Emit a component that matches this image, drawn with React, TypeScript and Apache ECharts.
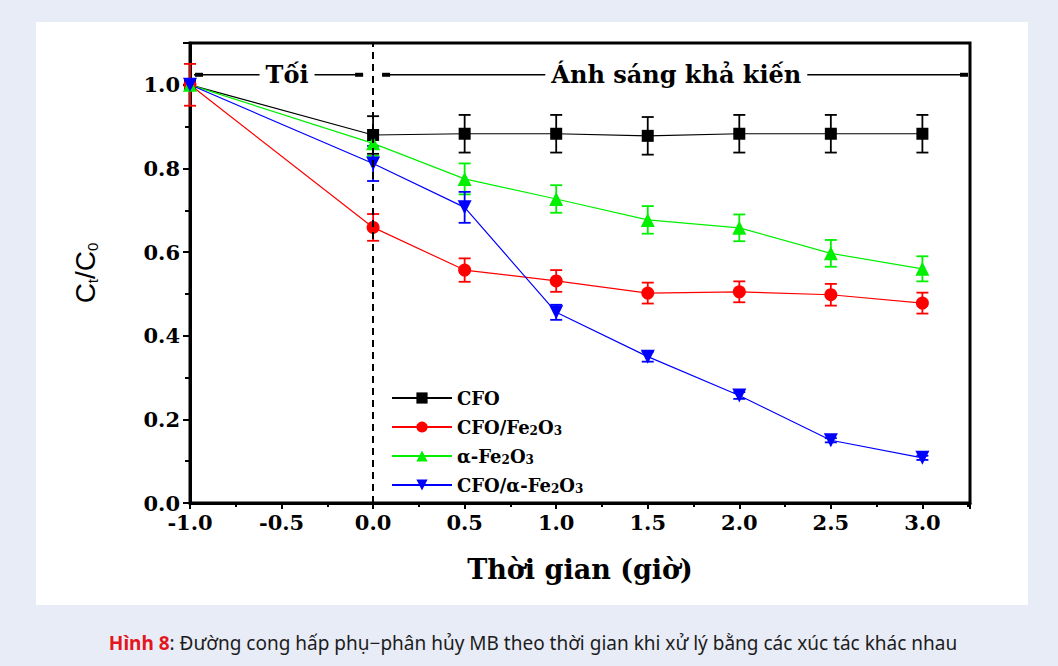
import React, { useEffect, useRef } from "react";
import * as echarts from "echarts";

const times = [-1, 0, 0.5, 1, 1.5, 2, 2.5, 3];

const cfoValues = [1.0, 0.88, 0.883, 0.883, 0.878, 0.883, 0.883, 0.883];
const cfoErrors = [0.01, 0.045, 0.045, 0.045, 0.045, 0.045, 0.045, 0.045];

const cfoFeValues = [1.0, 0.659, 0.557, 0.531, 0.502, 0.505, 0.498, 0.478];
const cfoFeErrors = [0.05, 0.032, 0.028, 0.026, 0.025, 0.025, 0.026, 0.025];

const alphaFeValues = [1.0, 0.86, 0.775, 0.727, 0.677, 0.658, 0.597, 0.56];
const alphaFeErrors = [0.01, 0.03, 0.037, 0.033, 0.033, 0.032, 0.032, 0.03];

const cfoAlphaValues = [1.0, 0.812, 0.707, 0.456, 0.35, 0.257, 0.15, 0.108];
const cfoAlphaErrors = [0.01, 0.042, 0.037, 0.018, 0.012, 0.008, 0.005, 0.005];

const seriesNames = ["CFO", "CFO/Fe2O3", "α-Fe2O3", "CFO/α-Fe2O3"];
const legendLabels: Record<string, string> = {
  CFO: "CFO",
  "CFO/Fe2O3": "CFO/Fe{sub|2}O{sub|3}",
  "α-Fe2O3": "α-Fe{sub|2}O{sub|3}",
  "CFO/α-Fe2O3": "CFO/α-Fe{sub|2}O{sub|3}",
};
const seriesColors = ["#000000", "#ff0000", "#00f000", "#0000ff"];
const seriesSymbols = ["rect", "circle", "triangle", "triangle"];
const seriesRotate = [0, 0, 0, 180];
const seriesSizes = [12, 13, 14, 14];

const xTickStep = 0.5;
const yTickStep = 0.2;

const darkLabel = "Tối";
const lightLabel = "Ánh sáng khả kiến";
const darkLabelX = -0.47;
const lightLabelX = 1.656;
const bracketY = 1.024;

const xAxisTitle = "Thời gian (giờ)";
const captionHead = "Hình 8";
const captionBody =
  ": Đường cong hấp phụ−phân hủy MB theo thời gian khi xử lý bằng các xúc tác khác nhau";

const SERIF = "'DejaVu Serif', 'Liberation Serif', serif";

export default function App() {
  const ref = useRef<HTMLDivElement>(null);

  useEffect(() => {
    if (!ref.current) return;
    const chart = echarts.init(ref.current, undefined, { renderer: "svg" });

    const values = [cfoValues, cfoFeValues, alphaFeValues, cfoAlphaValues];
    const errors = [cfoErrors, cfoFeErrors, alphaFeErrors, cfoAlphaErrors];

    const lineSeries: any[] = seriesNames.map((name, i) => ({
      type: "line",
      name,
      data: times.map((t, j) => [t, values[i][j]]),
      symbol: seriesSymbols[i],
      symbolSize: seriesSizes[i],
      symbolRotate: seriesRotate[i],
      showAllSymbol: true,
      color: seriesColors[i],
      lineStyle: { color: seriesColors[i], width: 1.2 },
      itemStyle: { color: seriesColors[i] },
      z: 4,
      markLine:
        i === 0
          ? {
              silent: true,
              symbol: ["none", "none"],
              label: { show: false },
              lineStyle: { color: "#000", width: 2, type: [7, 5] },
              data: [{ xAxis: 0 }],
            }
          : undefined,
    }));

    const errSeries: any[] = seriesNames.map((name, i) => ({
      type: "custom",
      name: "err " + name,
      z: 3,
      data: times.map((t, j) => [t, values[i][j] - errors[i][j], values[i][j] + errors[i][j]]),
      encode: { x: 0, y: [1, 2] },
      renderItem: (params: any, api: any) => {
        const x = api.value(0);
        const lo = api.coord([x, api.value(1)]);
        const hi = api.coord([x, api.value(2)]);
        const w = 6;
        const style = { stroke: seriesColors[i], lineWidth: 1.8, fill: null };
        return {
          type: "group",
          children: [
            { type: "line", shape: { x1: lo[0], y1: lo[1], x2: hi[0], y2: hi[1] }, style },
            { type: "line", shape: { x1: lo[0] - w, y1: lo[1], x2: lo[0] + w, y2: lo[1] }, style },
            { type: "line", shape: { x1: hi[0] - w, y1: hi[1], x2: hi[0] + w, y2: hi[1] }, style },
          ],
        };
      },
    }));

    const baseGraphics: any[] = [
      {
        id: "panel",
        type: "rect",
        shape: { x: 36, y: 22, width: 992, height: 583 },
        style: { fill: "#ffffff" },
        z: -10,
        silent: true,
      },
      {
        id: "caption",
        type: "text",
        x: 533,
        y: 643,
        style: {
          text: `{r|${captionHead}}{n|${captionBody}}`,
          align: "center",
          verticalAlign: "middle",
          rich: {
            r: { fontFamily: "'Noto Sans', sans-serif", fontSize: 19, fontWeight: "bold", fill: "#e3161d" },
            n: { fontFamily: "'Noto Sans', sans-serif", fontSize: 19, fill: "#1c1c1c" },
          },
        },
      },
    ];

    const subRich = {
      sub: { fontFamily: SERIF, fontWeight: "bold", fontSize: 12, lineHeight: 6, verticalAlign: "bottom", color: "#000" },
    };

    chart.setOption({
      animation: false,
      backgroundColor: "#e8ecf6",
      grid: {
        left: 190,
        right: 88,
        top: 43,
        bottom: 163,
        show: true,
        borderColor: "#000",
        borderWidth: 3,
        backgroundColor: "transparent",
      },
      legend: {
        data: seriesNames,
        orient: "vertical",
        left: 386,
        top: 383,
        itemWidth: 60,
        itemHeight: 14,
        itemGap: 9,
        formatter: (name: string) => legendLabels[name] || name,
        textStyle: {
          fontFamily: SERIF,
          fontWeight: "bold",
          fontSize: 18,
          color: "#000",
          lineHeight: 20,
          rich: subRich,
        },
      },
      xAxis: {
        type: "value",
        min: -1,
        max: 3.26,
        interval: xTickStep,
        axisLine: { onZero: false, lineStyle: { color: "#000", width: 3 } },
        axisTick: { length: 6, lineStyle: { color: "#000", width: 2 } },
        minorTick: { show: true, splitNumber: 2, length: 4, lineStyle: { color: "#000", width: 2 } },
        splitLine: { show: false },
        axisLabel: {
          margin: 9,
          fontFamily: SERIF,
          fontWeight: "bold",
          fontSize: 21,
          color: "#000",
          formatter: (v: number) =>
            Math.abs(v / xTickStep - Math.round(v / xTickStep)) < 1e-6 ? v.toFixed(1) : "",
        },
        name: xAxisTitle,
        nameLocation: "middle",
        nameGap: 53,
        nameTextStyle: { fontFamily: SERIF, fontWeight: "bold", fontSize: 27, color: "#000" },
      },
      yAxis: {
        type: "value",
        min: 0,
        max: 1.1,
        interval: yTickStep,
        axisLine: { onZero: false, lineStyle: { color: "#000", width: 3 } },
        axisTick: { length: 7, lineStyle: { color: "#000", width: 2 } },
        minorTick: { show: true, splitNumber: 2, length: 5, lineStyle: { color: "#000", width: 2 } },
        splitLine: { show: false },
        axisLabel: {
          margin: 10,
          fontFamily: SERIF,
          fontWeight: "bold",
          fontSize: 21,
          color: "#000",
          formatter: (v: number) =>
            Math.abs(v / yTickStep - Math.round(v / yTickStep)) < 1e-6 ? v.toFixed(1) : "",
        },
        name: "{m|C}{s|t}{m|/C}{s|0}",
        nameLocation: "middle",
        nameRotate: 90,
        nameGap: 90,
        nameTextStyle: {
          rich: {
            m: { fontFamily: "'Liberation Sans', sans-serif", fontSize: 28, lineHeight: 30, color: "#000" },
            s: { fontFamily: "'Liberation Sans', sans-serif", fontSize: 15, lineHeight: 6, verticalAlign: "bottom", color: "#000" },
          },
        },
      },
      series: [...errSeries, ...lineSeries],
      graphic: baseGraphics,
    });

    const px = (x: number) => chart.convertToPixel({ gridIndex: 0 }, [x, bracketY]) as number[];
    const y = px(0)[1];
    const xm1 = px(-1)[0];
    const x0 = px(0)[0];
    const xEnd = px(3.26)[0];
    const lineStyle = { stroke: "#000", lineWidth: 1.5 };
    const bar = (id: string, x: number) => ({
      id,
      type: "rect",
      shape: { x, y: y - 2, width: 8, height: 4 },
      style: { fill: "#000" },
      z: 10,
    });
    const labelStyle = {
      fontFamily: SERIF,
      fontWeight: "bold",
      fontSize: 24,
      fill: "#000",
      align: "center",
      verticalAlign: "middle",
      backgroundColor: "#fff",
      padding: [0, 6],
    };
    const annotations: any[] = [
      { id: "l1", type: "line", shape: { x1: xm1 + 4, y1: y, x2: x0 - 10, y2: y }, style: lineStyle, z: 10 },
      bar("b1", xm1 + 5),
      bar("b2", x0 - 18),
      { id: "t1", type: "text", x: px(darkLabelX)[0], y, style: { ...labelStyle, text: darkLabel }, z: 11 },
      { id: "l2", type: "line", shape: { x1: x0 + 9, y1: y, x2: xEnd - 3, y2: y }, style: lineStyle, z: 10 },
      bar("b3", x0 + 9),
      bar("b4", xEnd - 10),
      { id: "t2", type: "text", x: px(lightLabelX)[0], y, style: { ...labelStyle, text: lightLabel }, z: 11 },
    ];
    chart.setOption({ graphic: [...baseGraphics, ...annotations] });

    return () => chart.dispose();
  }, []);

  return (
    <div
      ref={ref}
      style={{ position: "fixed", left: 0, top: 0, width: 1058, height: 666 }}
    />
  );
}
